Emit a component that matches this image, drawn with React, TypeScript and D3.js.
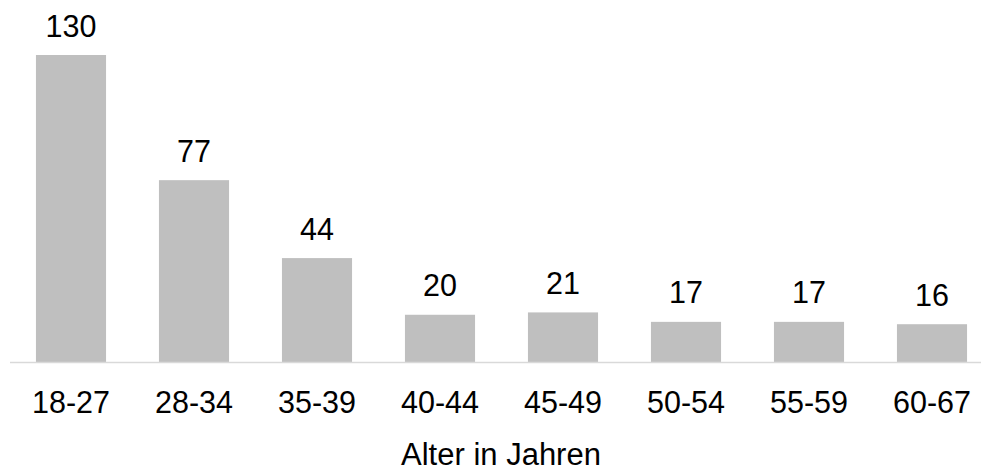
import React from "react";
import * as d3 from "d3";

const categories = ["18-27", "28-34", "35-39", "40-44", "45-49", "50-54", "55-59", "60-67"];
const values = [130, 77, 44, 20, 21, 17, 17, 16];
const axisTitle = "Alter in Jahren";

const W = 981;
const H = 472;
const baseline = 362;

export default function App() {
  const x = d3.scaleBand<string>().domain(categories).range([9.5, 993.5]).paddingInner(0.43).paddingOuter(0.215);
  const y = d3.scaleLinear().domain([0, 130]).range([baseline, 55]);
  const font = "'Liberation Sans', Arial, sans-serif";
  return (
    <svg width={W} height={H} style={{ position: "absolute", left: 0, top: 0, background: "#fff" }}>
      {categories.map((c, i) => (
        <g key={c}>
          <rect x={x(c)} y={y(values[i])} width={x.bandwidth()} height={baseline - y(values[i])} fill="#bfbfbf" />
          <text x={x(c)! + x.bandwidth() / 2} y={y(values[i]) - 18.5} textAnchor="middle" fontFamily={font} fontSize={30.5} fill="#000">
            {values[i]}
          </text>
          <text x={x(c)! + x.bandwidth() / 2} y={413} textAnchor="middle" fontFamily={font} fontSize={30.5} fill="#000">
            {c}
          </text>
        </g>
      ))}
      <line x1={10} x2={981} y1={baseline + 0.5} y2={baseline + 0.5} stroke="#d9d9d9" strokeWidth={1.5} />
      <text x={501} y={465} textAnchor="middle" fontFamily={font} fontSize={31} fill="#000">
        {axisTitle}
      </text>
    </svg>
  );
}
